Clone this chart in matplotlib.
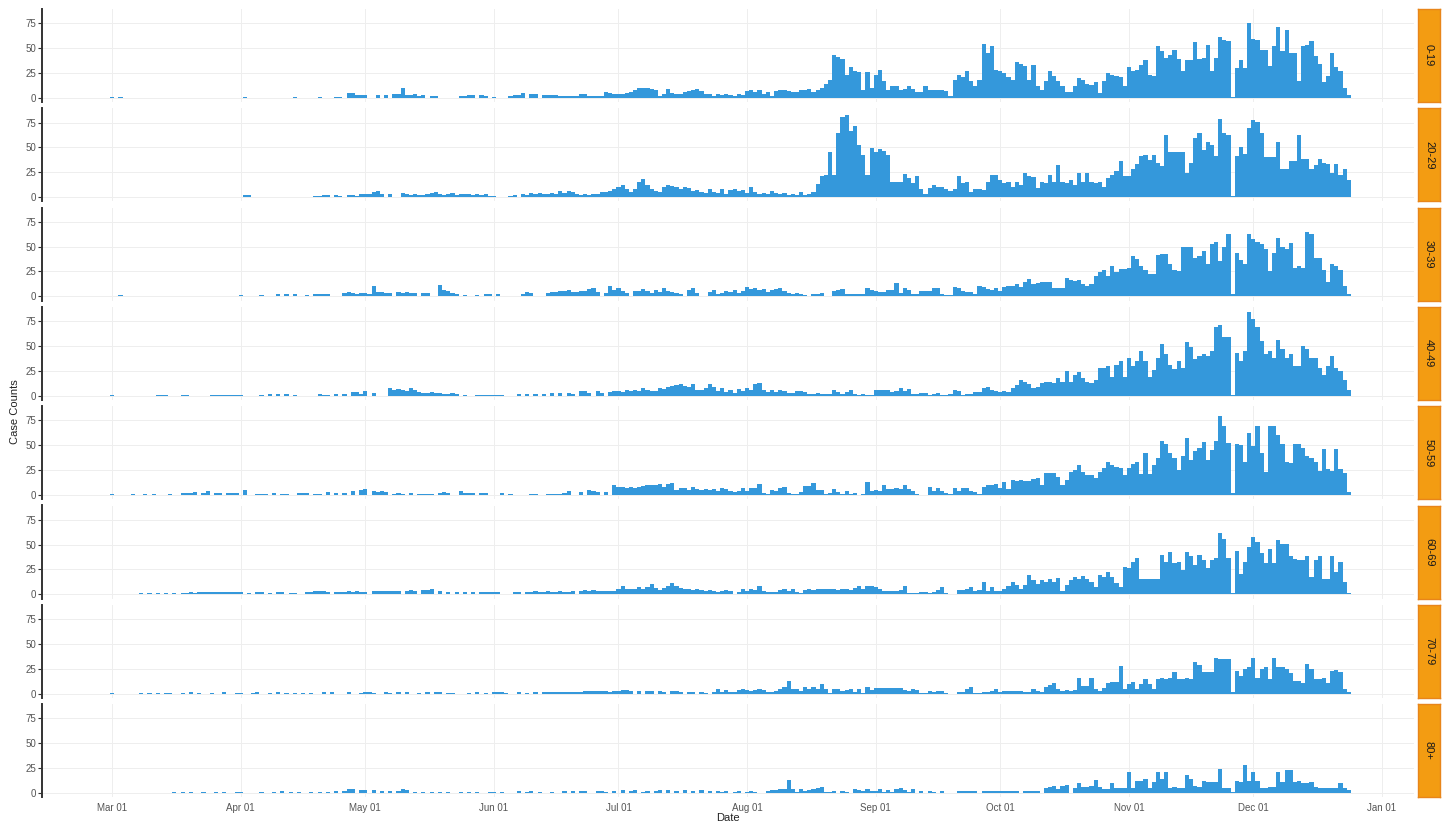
import numpy as np
import matplotlib.pyplot as plt
import matplotlib.dates as mdates
import datetime as dt

plt.rcParams['font.family'] = ['Liberation Sans', 'DejaVu Sans']

# daily case counts, Mar 01 .. Dec 24 2020, one row per month
a0_19 = [1,0,1,0,0,0,0,0,0,0, 0,0,0,0,0,0,0,0,0,0, 0,0,0,0,0,0,0,0,0,0, 0] + \
    [0,1,0,0,0,0,0,0,0,0, 0,0,0,1,0,0,0,0,0,1, 0,0,0,1,1,0,5,5,3,3] + \
    [3,0,0,3,0,3,0,4,4,10, 3,3,4,2,3,0,2,2,0,0, 0,0,0,2,2,3,3,0,3,2, 0] + \
    [1,0,0,0,2,3,3,5,0,4, 4,0,3,3,3,3,2,2,2,2, 2,4,4,2,2,2,2,6,5,4] + \
    [4,4,5,6,8,10,10,10,9,8, 2,4,9,5,4,4,6,7,8,9, 7,4,4,2,4,3,4,3,2,4, 3] + \
    [7,8,6,8,4,6,2,7,8,8, 7,6,6,8,8,9,6,8,10,14, 18,43,41,39,23,31,27,26,8,26, 10] + \
    [23,28,17,8,12,12,8,9,12,9, 6,6,12,8,8,8,8,7,2,18, 23,21,27,17,12,18,54,45,52,28] + \
    [27,25,21,18,36,34,32,18,33,12, 8,17,27,22,17,12,6,6,12,20, 18,14,13,16,5,17,25,23,22,21, 12] + \
    [31,27,28,33,38,23,22,52,47,40, 43,48,39,27,38,38,56,39,40,53, 27,40,61,58,57,1,30,38,30,75] + \
    [59,58,48,48,32,52,71,47,68,45, 45,17,52,53,57,42,34,16,22,45, 31,27,10,3]

a20_29 = [0]*31 + \
    [0,2,2,0,0,0,0,0,0,0, 0,0,0,0,0,0,0,0,1,1, 2,2,0,2,1,0,2,2,1,3] + \
    [3,3,5,6,3,0,3,0,0,4, 3,2,3,2,2,3,4,5,3,2, 3,4,2,3,3,3,2,3,2,3, 1] + \
    [1,0,0,0,1,2,0,3,2,4, 3,4,3,3,4,3,6,4,6,5, 3,2,3,2,3,3,5,5,6,8] + \
    [10,12,8,5,8,15,18,12,8,6, 5,10,12,11,10,8,10,9,6,7, 5,4,8,5,4,8,3,7,8,6, 7] + \
    [4,10,5,3,4,3,6,4,3,4, 2,3,2,5,2,3,5,13,21,22, 45,22,64,81,83,66,71,52,42,22, 49] + \
    [45,48,46,42,15,15,15,23,19,14, 21,8,3,9,12,10,10,8,6,8, 21,14,15,5,8,8,7,15,22,22] + \
    [17,14,15,10,15,12,24,21,20,9, 15,14,22,15,32,15,14,17,12,24, 15,24,15,14,15,10,19,22,26,36, 21] + \
    [21,28,33,41,42,37,42,34,31,62, 45,45,45,45,24,34,59,64,47,55, 52,41,79,64,62,1,41,50,43,69] + \
    [78,76,64,40,40,40,55,28,28,36, 36,62,38,38,28,32,38,34,33,24, 33,22,28,17]

a30_39 = [0,0,1,0,0,0,0,0,0,0, 0,0,0,0,0,0,0,0,0,0, 0,0,0,0,0,0,0,0,0,0, 0] + \
    [1,0,0,0,0,1,0,0,0,2, 0,2,0,2,0,0,1,0,2,2, 2,2,0,0,0,3,4,3,2,3] + \
    [3,2,10,4,4,3,3,0,4,3, 4,3,3,0,3,3,0,0,11,6, 5,3,2,0,1,0,0,1,0,2, 2] + \
    [0,2,0,0,0,0,0,2,4,3, 0,0,0,3,4,4,5,5,6,4, 4,5,5,7,8,4,0,3,10,6] + \
    [8,5,3,0,5,5,7,5,3,6, 4,8,5,4,3,2,0,6,8,3, 0,0,4,6,2,3,5,4,6,3, 5] + \
    [9,7,8,6,7,4,6,7,8,5, 3,2,3,2,1,0,2,2,3,0, 0,5,6,7,2,2,2,2,2,8, 6] + \
    [5,4,4,6,6,13,3,8,6,2, 2,5,5,5,8,8,2,1,1,9, 8,5,4,4,2,10,9,7,6,8] + \
    [5,9,10,10,12,9,14,17,12,13, 14,14,14,8,8,8,18,16,15,16, 12,10,12,20,24,27,20,31,24,28, 28] + \
    [29,41,38,31,26,22,22,42,43,43, 33,27,25,50,50,50,39,41,46,33, 53,55,36,50,63,2,44,37,33,63] + \
    [58,55,53,48,25,44,59,50,48,54, 29,31,29,65,63,39,39,26,14,33, 31,26,10,2]

a40_49 = [1,0,0,0,0,0,0,0,0,0, 0,1,1,1,0,0,0,1,1,0, 0,0,0,0,1,1,1,1,1,1, 1] + \
    [1,0,0,0,0,1,0,2,0,2, 0,2,0,1,0,0,0,0,0,2, 1,1,0,2,0,2,0,4,4,2] + \
    [5,0,3,0,0,0,8,6,7,6, 5,8,6,4,3,3,4,3,3,2, 2,3,2,0,1,0,0,1,1,1, 1] + \
    [1,1,1,0,0,0,2,0,2,0, 2,0,2,0,3,0,3,0,3,2, 0,5,5,3,0,5,3,0,4,5] + \
    [5,4,6,5,6,5,8,6,5,5, 8,7,9,10,11,12,10,9,12,6, 6,8,12,9,5,8,4,6,3,7, 5] + \
    [8,6,12,13,6,4,6,4,6,5, 3,3,5,5,4,2,2,3,2,2, 2,6,4,2,4,6,2,1,2,1, 1] + \
    [6,6,6,6,4,5,8,5,7,2, 2,3,3,1,2,3,1,1,2,6, 5,1,2,2,4,4,8,9,6,5] + \
    [4,5,4,8,11,16,14,12,8,9, 13,14,14,13,18,14,25,14,21,24, 18,14,13,16,28,28,30,19,31,35, 19] + \
    [38,30,35,45,35,19,26,38,52,42, 31,27,35,28,54,49,37,40,42,40, 45,69,71,59,59,1,43,35,45,84] + \
    [77,69,55,42,45,38,56,47,38,42, 30,30,50,47,38,38,28,21,30,40, 28,25,16,6]

a50_59 = [1,0,0,0,0,1,0,0,1,0, 1,0,0,0,1,0,0,2,2,2, 3,0,2,4,0,2,2,0,2,2, 2] + \
    [0,5,0,0,1,1,1,0,2,0, 1,1,0,0,2,2,2,0,1,1, 0,3,0,2,0,2,0,4,0,5] + \
    [6,0,4,3,4,3,0,1,2,1, 0,2,0,1,1,1,1,0,2,3, 2,0,0,4,2,2,2,0,2,2, 0] + \
    [0,0,2,0,1,0,0,0,0,1, 1,0,0,1,1,1,1,2,4,0, 0,3,0,5,4,3,0,3,0,10] + \
    [8,8,7,8,7,8,9,10,10,10, 11,8,11,12,5,7,7,5,8,6, 5,6,5,6,4,7,6,4,3,4, 7] + \
    [4,7,7,11,2,1,5,4,7,8, 2,1,1,3,9,9,12,5,5,1, 2,6,3,1,4,1,2,0,1,13, 4] + \
    [5,4,10,6,6,7,6,10,6,4, 1,0,0,8,4,7,4,2,1,7, 4,7,7,4,3,1,8,10,10,11] + \
    [7,13,6,15,14,15,14,14,16,17, 10,22,22,22,18,10,15,23,25,30, 23,20,20,17,23,27,33,30,28,27, 20] + \
    [27,31,33,21,42,21,30,37,54,51, 42,37,25,39,57,35,44,47,53,35, 45,54,79,69,52,2,51,50,33,62] + \
    [49,69,42,23,69,69,60,51,33,32, 51,51,47,39,37,33,24,46,26,24, 46,26,22,3]

a60_69 = [0,0,0,0,0,0,0,1,0,1, 0,1,0,1,0,1,0,1,1,2, 1,2,2,2,2,2,2,2,2,2, 2] + \
    [2,0,1,0,2,2,0,1,0,2, 2,0,1,1,0,0,2,2,3,3, 3,2,0,2,2,2,3,2,3,2] + \
    [2,0,3,3,3,3,3,3,3,0, 3,4,3,0,4,4,5,0,3,0, 2,0,2,0,2,0,2,0,2,2, 2] + \
    [2,2,0,0,0,2,2,0,2,2, 3,2,2,3,2,2,3,2,2,3, 0,3,4,3,4,3,3,3,3,3] + \
    [5,8,5,5,5,7,5,7,10,6, 4,6,8,11,8,6,5,5,4,5, 4,3,4,3,2,3,4,3,0,2, 5] + \
    [3,5,4,8,3,2,2,2,4,5, 3,5,2,1,4,5,4,5,5,5, 5,5,4,5,5,4,6,8,5,8, 8] + \
    [7,5,3,3,3,3,4,8,1,1, 1,2,2,1,2,4,7,1,0,0, 4,4,5,7,3,4,12,3,7,3] + \
    [3,5,8,12,9,5,9,19,14,10, 14,12,15,12,16,3,9,14,17,15, 18,15,12,7,19,17,22,17,11,7, 27] + \
    [26,32,36,15,15,15,15,15,39,32, 43,31,32,24,42,38,29,39,34,26, 34,36,62,56,36,1,44,20,32,48] + \
    [58,53,41,31,46,31,55,51,51,38, 35,34,34,38,17,34,38,15,15,38, 22,32,12,1]

a70_79 = [1,0,0,0,0,0,0,1,0,1, 0,1,0,1,1,0,0,1,0,2, 0,1,0,0,1,0,0,2,0,0, 1] + \
    [1,0,0,1,2,0,0,1,0,2, 0,1,0,1,0,1,0,1,0,0, 2,0,2,0,0,0,2,0,0,1] + \
    [2,2,1,0,0,2,1,0,2,0, 2,0,0,1,0,2,0,2,2,0, 1,1,0,0,0,1,0,2,0,1, 0] + \
    [2,2,2,1,0,0,2,0,1,0, 2,0,2,2,2,2,2,2,2,2, 2,2,3,3,3,3,3,3,2,3] + \
    [3,4,4,3,0,3,0,3,3,0, 3,2,0,3,3,2,0,2,2,0, 2,1,0,2,5,2,4,2,2,4, 5] + \
    [4,3,4,5,4,2,2,3,5,7, 13,5,5,3,7,5,7,5,10,5, 1,5,5,3,4,5,2,5,1,7, 4] + \
    [6,6,6,6,6,6,6,4,3,5, 4,1,1,3,2,3,3,1,0,0, 2,2,5,7,1,1,2,2,3,5] + \
    [2,3,3,3,3,3,2,2,5,3, 2,7,9,11,5,3,4,3,4,16, 8,8,16,5,3,6,11,12,12,28, 5] + \
    [10,12,5,10,15,10,5,15,16,15, 16,22,15,15,16,15,32,29,22,22, 22,36,35,35,35,2,23,18,25,27] + \
    [36,16,25,27,15,36,27,27,25,21, 13,13,11,30,25,15,15,16,11,23, 24,22,5,2]

a80p = [0,0,0,0,0,0,0,0,0,0, 0,0,0,0,0,1,0,1,0,1, 0,0,1,0,0,1,0,1,0,0, 1] + \
    [1,0,0,0,0,1,0,0,1,0, 2,0,1,0,1,0,0,1,0,1, 0,1,0,2,0,2,4,4,0,3] + \
    [3,0,3,0,2,0,2,0,2,4, 3,0,1,0,1,0,1,0,1,0, 1,0,0,1,0,1,0,1,0,0, 1] + \
    [1,0,1,0,0,0,2,0,1,2, 0,1,0,0,1,0,0,2,0,2, 0,2,2,0,0,2,2,1,0,2] + \
    [0,3,0,2,3,0,1,2,0,2, 3,0,3,0,2,0,3,0,2,0, 3,0,2,0,2,1,2,0,1,2, 0] + \
    [1,2,1,0,0,2,3,3,4,4, 13,4,1,4,2,3,4,5,6,1, 1,2,0,2,1,0,4,3,2,4, 2] + \
    [2,4,1,3,1,4,5,3,1,4, 0,2,0,2,1,0,2,0,0,0, 2,2,2,2,2,0,2,2,2,2] + \
    [2,2,2,2,2,0,2,2,2,2, 0,5,6,7,4,7,8,0,5,10, 6,6,7,13,6,4,4,10,5,5, 5] + \
    [21,5,12,12,14,5,11,21,14,21, 5,6,5,5,18,14,7,6,12,11, 11,11,24,5,5,1,12,11,28,12] + \
    [21,12,5,5,6,6,21,11,23,23, 11,12,10,10,11,6,5,5,5,5, 5,10,5,3]

groups = ["0-19", "20-29", "30-39", "40-49", "50-59", "60-69", "70-79", "80+"]
series = [a0_19, a20_29, a30_39, a40_49, a50_59, a60_69, a70_79, a80p]

start = mdates.date2num(dt.date(2020, 3, 1))
month_ticks = [dt.date(2020, m, 1) for m in range(3, 13)] + [dt.date(2021, 1, 1)]

W, H = 1448, 823
fig = plt.figure(figsize=(W / 100, H / 100), dpi=100)

left, right = 42, 1414
for k, (g, vals) in enumerate(zip(groups, series)):
    top = 9 + 99.3 * k
    ph = 93
    ax = fig.add_axes([left / W, 1 - (top + ph) / H, (right - left) / W, ph / H])
    x = start + np.arange(len(vals))
    ax.bar(x, vals, width=1.0, color="#3498DB", linewidth=0, zorder=2)
    ax.set_xlim(start - 16.9, start + 313.7)
    ax.set_ylim(-4.3, 89.3)
    ax.set_yticks([0, 25, 50, 75])
    ax.set_xticks([mdates.date2num(d) for d in month_ticks])
    ax.grid(True, color="#EEEEEE", linewidth=0.7, zorder=0)
    for s in ["top", "right", "bottom"]:
        ax.spines[s].set_visible(False)
    ax.spines["left"].set_color("#333333")
    ax.spines["left"].set_linewidth(1.4)
    ax.tick_params(axis="y", length=3, width=0.8, color="#333333",
                   labelsize=7, labelcolor="#555555", pad=1)
    ax.tick_params(axis="x", length=0, labelsize=7, labelcolor="#555555", pad=4)
    ax.xaxis.set_major_formatter(mdates.DateFormatter("%b %d"))
    if k < len(groups) - 1:
        ax.set_xticklabels([])

    # facet strip on the right
    sx = fig.add_axes([1418 / W, 1 - (top + ph) / H, 22 / W, ph / H])
    sx.set_facecolor("#F39C12")
    for s in sx.spines.values():
        s.set_color("#E8851A")
        s.set_linewidth(1.0)
    sx.set_xticks([])
    sx.set_yticks([])
    sx.text(0.5, 0.5, g, rotation=-90, ha="center", va="center",
            fontsize=8, color="#1A1A1A", transform=sx.transAxes)

fig.text(15 / W, 0.5, "Case Counts", rotation=90, ha="center", va="center",
         fontsize=8, color="#222222")
fig.text((left + right) / 2 / W, 1 - 813 / H, "Date", ha="center", va="top",
         fontsize=8, color="#222222")

fig.savefig("out.png", dpi=100)
